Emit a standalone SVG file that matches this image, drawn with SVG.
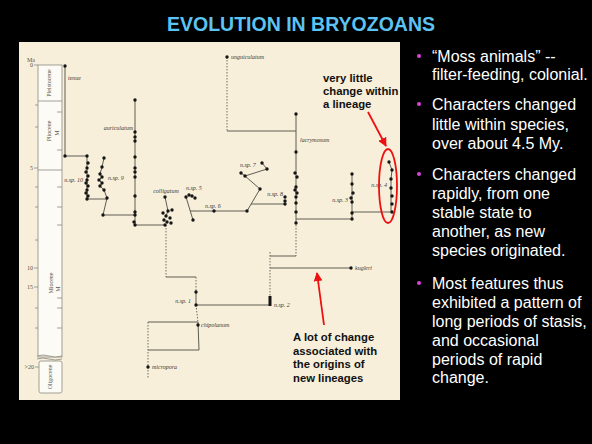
<svg xmlns="http://www.w3.org/2000/svg" width="592" height="444" viewBox="0 0 592 444">
<defs>
<style>
.ln{stroke:#5e5c52;stroke-width:1;fill:none}
.ds{stroke:#6e6c62;stroke-width:1;fill:none;stroke-dasharray:1.5 1.5}
.dot{fill:#151515}
.lab{font-family:"Liberation Serif",serif;font-style:italic;font-size:6px;fill:#3a3a36}
.sc{font-family:"Liberation Serif",serif;font-size:6px;fill:#55554f}
.note{font-family:"Liberation Sans",Arial,sans-serif;font-weight:bold;font-size:11.3px;fill:#111}
.bt{font-family:"Liberation Sans",Arial,sans-serif;font-size:16px;fill:#ffffff}
.red{stroke:#ee1111;stroke-width:1.8;fill:none}
.tk{stroke:#8a8a82;stroke-width:0.8}
</style>
<marker id="ah" viewBox="0 0 10 10" refX="9" refY="5" markerWidth="5" markerHeight="5" orient="auto">
<path d="M0,0 L10,5 L0,10 z" fill="#ee1111"/>
</marker>
</defs>
<rect x="0" y="0" width="592" height="444" fill="#000"/>
<text x="301" y="31" text-anchor="middle" font-family="Liberation Sans,Arial,sans-serif" font-weight="bold" font-size="19.5" fill="#5cc3f2">EVOLUTION IN BRYOZOANS</text>
<rect x="19" y="42" width="381" height="358" fill="#f7efda"/>

<g id="timescale">
<rect x="38" y="65" width="24" height="292" fill="#fcfbf6" stroke="#8a8a82" stroke-width="0.8"/>
<line class="tk" x1="38" y1="101" x2="62" y2="101"/>
<line class="tk" x1="38" y1="170" x2="62" y2="170"/>
<path d="M37,356 q6,-2 12,0 t13,0 M37,359 q6,-2 12,0 t13,0" stroke="#8a8a82" stroke-width="0.8" fill="#f7efda"/>
<rect x="39" y="361" width="23" height="32" rx="2" fill="#fcfbf6" stroke="#8a8a82" stroke-width="0.8"/>
<text class="sc" transform="translate(51,83) rotate(-90)" text-anchor="middle">Pleistocene</text>
<text class="sc" transform="translate(51,131) rotate(-90)" text-anchor="middle">Pliocene</text>
<text class="sc" transform="translate(59,133) rotate(-90)" text-anchor="middle">M</text>
<text class="sc" transform="translate(53,283) rotate(-90)" text-anchor="middle">Miocene</text>
<text class="sc" transform="translate(60,289) rotate(-90)" text-anchor="middle">M</text>
<text class="sc" transform="translate(52,377) rotate(-90)" text-anchor="middle">Oligocene</text>
<g class="tk">
<line x1="57" y1="112" x2="62" y2="112"/><line x1="57" y1="150" x2="62" y2="150"/>
<line x1="57" y1="187" x2="62" y2="187"/><line x1="57" y1="207" x2="62" y2="207"/>
<line x1="57" y1="225" x2="62" y2="225"/><line x1="57" y1="298" x2="62" y2="298"/>
<line x1="57" y1="308" x2="62" y2="308"/><line x1="57" y1="328" x2="62" y2="328"/>
<line x1="34" y1="65" x2="38" y2="65"/><line x1="35" y1="105" x2="38" y2="105"/>
<line x1="35" y1="127" x2="38" y2="127"/><line x1="34" y1="168" x2="38" y2="168"/>
<line x1="35" y1="187" x2="38" y2="187"/><line x1="35" y1="207" x2="38" y2="207"/>
<line x1="35" y1="240" x2="38" y2="240"/><line x1="34" y1="268" x2="38" y2="268"/>
<line x1="34" y1="287" x2="38" y2="287"/><line x1="35" y1="308" x2="38" y2="308"/>
<line x1="35" y1="328" x2="38" y2="328"/><line x1="35" y1="367" x2="39" y2="367"/>
</g>
<text class="sc" x="27" y="62">Ma</text>
<text class="sc" x="33" y="67" text-anchor="end">0</text>
<text class="sc" x="33" y="170" text-anchor="end">5</text>
<text class="sc" x="33" y="270" text-anchor="end">10</text>
<text class="sc" x="33" y="289" text-anchor="end">15</text>
<text class="sc" x="34" y="369" text-anchor="end">&gt;20</text>
</g>

<g id="connectors">
<polyline class="ln" points="65,66 65,156 87,156 87,199 106,199"/>
<polyline class="ln" points="104,158 102,167 100,174 102,177 99,180 102,183 100,186 104,190 107,198 103,215 135,215"/>
<line class="ln" x1="135" y1="100" x2="135" y2="225"/>
<line class="ln" x1="135" y1="225" x2="166" y2="225"/>
<polyline class="ln" points="165,197 168,211 166,216"/>
<polyline class="ln" points="186,197 193,220"/>
<polyline class="ln" points="190,211 247,211 260,189 245,176 241,173"/>
<polyline class="ln" points="245,176 267,169 262,163"/>
<polyline class="ln" points="251,204 285,204"/>
<line class="ds" x1="166" y1="225" x2="166" y2="277"/>
<line class="ln" x1="166" y1="277" x2="196" y2="277"/>
<line class="ds" x1="196" y1="277" x2="196" y2="292"/>
<line class="ln" x1="196" y1="292" x2="196" y2="305"/>
<line class="ln" x1="196" y1="305" x2="270" y2="305"/>
<line class="ds" x1="196" y1="305" x2="198" y2="322"/>
<polyline class="ln" points="148,322 198,322 199,350 148,350"/>
<line class="ds" x1="148" y1="322" x2="148" y2="378"/>
<line class="ds" x1="227" y1="57" x2="227" y2="131"/>
<line class="ln" x1="227" y1="131" x2="296" y2="131"/>
<line class="ln" x1="296" y1="114" x2="296" y2="222"/>
<line class="ln" x1="296" y1="219" x2="352" y2="219"/>
<line class="ln" x1="352" y1="174" x2="352" y2="219"/>
<line class="ln" x1="352" y1="212" x2="392" y2="212"/>
<polyline class="ln" points="389,162 392,170 391,179 391,212"/>
<line class="ds" x1="296" y1="222" x2="296" y2="256"/>
<line class="ln" x1="270" y1="256" x2="296" y2="256"/>
<line class="ds" x1="270" y1="252" x2="270" y2="297"/>
<line class="ln" x1="270" y1="297" x2="270" y2="305"/>
<line class="ln" x1="270" y1="268" x2="351" y2="268"/>
</g>

<g id="dots">
<circle class="dot" cx="65" cy="66" r="1.7"/><circle class="dot" cx="65" cy="156" r="1.7"/>
<circle class="dot" cx="87" cy="156" r="1.7"/><circle class="dot" cx="88" cy="163" r="1.7"/><circle class="dot" cx="87" cy="168" r="1.7"/><circle class="dot" cx="86" cy="172" r="1.7"/><circle class="dot" cx="88" cy="176" r="1.7"/><circle class="dot" cx="87" cy="180" r="1.7"/><circle class="dot" cx="86" cy="183" r="1.7"/><circle class="dot" cx="88" cy="186" r="1.7"/><circle class="dot" cx="87" cy="190" r="1.7"/><circle class="dot" cx="86" cy="193" r="1.7"/><circle class="dot" cx="88" cy="196" r="1.7"/><circle class="dot" cx="87" cy="199" r="1.7"/>
<circle class="dot" cx="104" cy="158" r="1.7"/><circle class="dot" cx="102" cy="167" r="1.7"/><circle class="dot" cx="100" cy="174" r="1.7"/><circle class="dot" cx="102" cy="177" r="1.7"/><circle class="dot" cx="99" cy="180" r="1.7"/><circle class="dot" cx="102" cy="183" r="1.7"/><circle class="dot" cx="100" cy="186" r="1.7"/><circle class="dot" cx="104" cy="190" r="1.7"/><circle class="dot" cx="107" cy="198" r="1.7"/><circle class="dot" cx="103" cy="215" r="1.7"/>
<circle class="dot" cx="135" cy="100" r="1.7"/><circle class="dot" cx="135" cy="132" r="1.7"/><circle class="dot" cx="135" cy="137" r="1.7"/><circle class="dot" cx="135" cy="141" r="1.7"/><circle class="dot" cx="135" cy="157" r="1.7"/><circle class="dot" cx="135" cy="168" r="1.7"/><circle class="dot" cx="135" cy="172" r="1.7"/><circle class="dot" cx="135" cy="177" r="1.7"/><circle class="dot" cx="135" cy="196" r="1.7"/><circle class="dot" cx="135" cy="212" r="1.7"/><circle class="dot" cx="135" cy="215" r="1.7"/><circle class="dot" cx="134" cy="222" r="1.7"/><circle class="dot" cx="135" cy="225" r="1.7"/>
<circle class="dot" cx="165" cy="197" r="1.7"/><circle class="dot" cx="168" cy="211" r="1.7"/><circle class="dot" cx="172" cy="210" r="1.7"/><circle class="dot" cx="163" cy="213" r="1.7"/><circle class="dot" cx="166" cy="216" r="1.7"/><circle class="dot" cx="170" cy="218" r="1.7"/><circle class="dot" cx="164" cy="220" r="1.7"/><circle class="dot" cx="167" cy="222" r="1.7"/><circle class="dot" cx="171" cy="223" r="1.7"/><circle class="dot" cx="165" cy="225" r="1.7"/>
<circle class="dot" cx="186" cy="197" r="1.7"/><circle class="dot" cx="189" cy="195" r="1.7"/><circle class="dot" cx="192" cy="196" r="1.7"/><circle class="dot" cx="195" cy="198" r="1.7"/><circle class="dot" cx="193" cy="220" r="1.7"/>
<circle class="dot" cx="214" cy="211" r="1.7"/><circle class="dot" cx="247" cy="211" r="1.7"/>
<circle class="dot" cx="260" cy="189" r="1.7"/><circle class="dot" cx="245" cy="176" r="1.7"/><circle class="dot" cx="241" cy="173" r="1.7"/><circle class="dot" cx="262" cy="163" r="1.7"/><circle class="dot" cx="267" cy="169" r="1.7"/>
<circle class="dot" cx="285" cy="197" r="1.7"/><circle class="dot" cx="285" cy="201" r="1.7"/><circle class="dot" cx="285" cy="204" r="1.7"/>
<circle class="dot" cx="227" cy="57" r="1.7"/>
<circle class="dot" cx="296" cy="114" r="1.7"/><circle class="dot" cx="296" cy="152" r="1.7"/><circle class="dot" cx="295" cy="173" r="1.7"/><circle class="dot" cx="297" cy="177" r="1.7"/><circle class="dot" cx="296" cy="187" r="1.7"/><circle class="dot" cx="295" cy="190" r="1.7"/><circle class="dot" cx="297" cy="193" r="1.7"/><circle class="dot" cx="296" cy="197" r="1.7"/><circle class="dot" cx="296" cy="203" r="1.7"/><circle class="dot" cx="296" cy="212" r="1.7"/><circle class="dot" cx="296" cy="223" r="1.7"/>
<circle class="dot" cx="352" cy="174" r="1.7"/><circle class="dot" cx="352" cy="184" r="1.7"/><circle class="dot" cx="353" cy="193" r="1.7"/><circle class="dot" cx="351" cy="198" r="1.7"/><circle class="dot" cx="352" cy="202" r="1.7"/><circle class="dot" cx="352" cy="213" r="1.7"/><circle class="dot" cx="352" cy="219" r="1.7"/>
<circle class="dot" cx="389" cy="162" r="1.7"/><circle class="dot" cx="392" cy="170" r="1.7"/><circle class="dot" cx="391" cy="179" r="1.7"/><circle class="dot" cx="391" cy="188" r="1.7"/><circle class="dot" cx="392" cy="196" r="1.7"/><circle class="dot" cx="392" cy="204" r="1.7"/><circle class="dot" cx="392" cy="212" r="1.7"/>
<circle class="dot" cx="351" cy="268" r="1.7"/>
<rect x="268.5" y="296" width="3" height="10" fill="#151515"/>
<circle class="dot" cx="196" cy="292" r="1.7"/><circle class="dot" cx="196" cy="305" r="1.7"/>
<circle class="dot" cx="198" cy="325" r="1.7"/><circle class="dot" cx="148" cy="367" r="1.7"/>
</g>

<g id="labels">
<text class="lab" x="68" y="80">tenue</text>
<text class="lab" x="133" y="130" text-anchor="end">auriculatum</text>
<text class="lab" x="83" y="182" text-anchor="end">n.sp. 10</text>
<text class="lab" x="108" y="180">n.sp. 9</text>
<text class="lab" x="166" y="193" text-anchor="middle">colligatum</text>
<text class="lab" x="186" y="190">n.sp. 5</text>
<text class="lab" x="205" y="208">n.sp. 6</text>
<text class="lab" x="240" y="167">n.sp. 7</text>
<text class="lab" x="283" y="196" text-anchor="end">n.sp. 8</text>
<text class="lab" x="231" y="59">unguiculatum</text>
<text class="lab" x="300" y="142">lacrymosum</text>
<text class="lab" x="348" y="202" text-anchor="end">n.sp. 3</text>
<text class="lab" x="387" y="187" text-anchor="end">n.sp. 4</text>
<text class="lab" x="355" y="270">kugleri</text>
<text class="lab" x="274" y="307">n.sp. 2</text>
<text class="lab" x="191" y="303" text-anchor="end">n.sp. 1</text>
<text class="lab" x="201" y="327">chipolanum</text>
<text class="lab" x="152" y="369">micropora</text>
</g>

<g id="annotations">
<ellipse class="red" cx="388" cy="186" rx="9" ry="37"/>
<line class="red" x1="368" y1="112" x2="386" y2="146" marker-end="url(#ah)"/>
<line class="red" x1="324" y1="325" x2="317" y2="273" marker-end="url(#ah)"/>
<text class="note" x="323"><tspan x="323" y="82">very little</tspan><tspan x="323" y="95">change within</tspan><tspan x="323" y="108">a lineage</tspan></text>
<text class="note"><tspan x="293" y="341">A lot of change</tspan><tspan x="293" y="354.5">associated with</tspan><tspan x="293" y="368">the origins of</tspan><tspan x="293" y="381.5">new lineages</tspan></text>
</g>

<g id="bullets">
<circle cx="419" cy="56" r="2" fill="#d646d6"/>
<circle cx="419" cy="104" r="2" fill="#d646d6"/>
<circle cx="419" cy="174" r="2" fill="#d646d6"/>
<circle cx="419" cy="283" r="2" fill="#d646d6"/>
<text class="bt"><tspan x="432" y="62">“Moss animals” --</tspan><tspan x="432" y="80">filter-feeding, colonial.</tspan></text>
<text class="bt"><tspan x="432" y="110">Characters changed</tspan><tspan x="432" y="129.5">little within species,</tspan><tspan x="432" y="149">over about 4.5 My.</tspan></text>
<text class="bt"><tspan x="432" y="180">Characters changed</tspan><tspan x="432" y="199">rapidly, from one</tspan><tspan x="432" y="218">stable state to</tspan><tspan x="432" y="237">another, as new</tspan><tspan x="432" y="256">species originated.</tspan></text>
<text class="bt"><tspan x="432" y="289">Most features thus</tspan><tspan x="432" y="308">exhibited a pattern of</tspan><tspan x="432" y="327">long periods of stasis,</tspan><tspan x="432" y="345.5">and occasional</tspan><tspan x="432" y="364.5">periods of rapid</tspan><tspan x="432" y="383">change.</tspan></text>
</g>
</svg>
